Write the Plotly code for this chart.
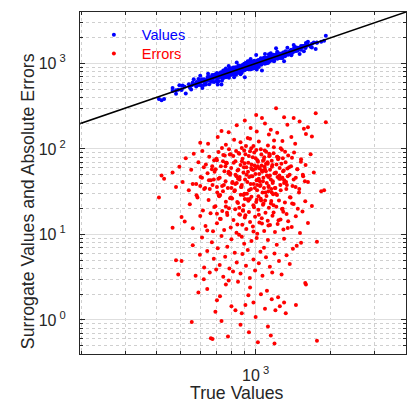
import plotly.graph_objects as go

# true values (x) and absolute errors, grouped by error band
true_values = [
    # errors below 1
    555, 662, 672, 775, 1021, 1150, 1190, 1760, 870, 940,
    1120, 730,
    # errors 1-3
    590, 640, 700, 720, 760, 800, 830, 850, 880, 910,
    950, 980, 1000, 1050, 1090, 1110, 1160, 1200, 1230, 1250,
    1300, 1320, 1450, 1580, 1590, 690, 780, 935,
    # errors 3-10
    480, 490, 505, 560, 575, 598, 610, 622, 640, 655,
    668, 680, 695, 705, 718, 730, 742, 755, 770, 785,
    800, 812, 825, 840, 858, 870, 885, 900, 915, 930,
    948, 962, 980, 995, 1010, 1030, 1045, 1065, 1080, 1100,
    1120, 1140, 1165, 1190, 1215, 1240, 1270, 1300, 1330, 1370,
    1410, 1460, 1520, 620, 880,
    # errors 10-30
    520, 545, 560, 585, 600, 615, 630, 648, 660, 675,
    690, 700, 712, 725, 735, 748, 760, 770, 782, 795,
    805, 815, 828, 838, 850, 860, 872, 884, 895, 905,
    918, 928, 940, 950, 962, 975, 985, 995, 1005, 1015,
    1025, 1035, 1048, 1058, 1070, 1082, 1095, 1105, 1118, 1130,
    1142, 1155, 1168, 1180, 1195, 1210, 1225, 1240, 1258, 1275,
    1292, 1310, 1330, 1350, 1372, 1395, 1420, 1448, 1475, 1505,
    1540, 1580, 1620, 1680, 1760, 410, 465, 505, 580, 640,
    720, 790, 845, 890, 935, 980, 1030, 1075, 1125, 1175,
    1235, 1290, 1345, 1400, 860, 910, 1010, 1060, 760, 700,
    # errors 30-100
    420, 430, 465, 480, 495, 510, 525, 540, 552, 565,
    578, 590, 602, 612, 622, 632, 642, 652, 662, 672,
    682, 692, 702, 710, 718, 726, 734, 742, 750, 758,
    766, 774, 782, 790, 798, 806, 814, 822, 830, 838,
    846, 854, 862, 870, 878, 886, 894, 902, 910, 918,
    926, 934, 942, 950, 958, 966, 974, 982, 990, 998,
    1006, 1014, 1022, 1030, 1038, 1046, 1054, 1062, 1070, 1078,
    1086, 1094, 1102, 1110, 1118, 1126, 1134, 1142, 1150, 1160,
    1170, 1180, 1190, 1200, 1212, 1224, 1236, 1248, 1260, 1274,
    1288, 1302, 1318, 1334, 1350, 1368, 1386, 1405, 1425, 1448,
    1470, 1495, 1520, 1550, 1585, 1620, 1660, 1710, 1830, 1880,
    560, 620, 680, 740, 800, 860, 920, 980, 1040, 1100,
    1160, 1220, 1280, 1340, 600, 700, 780, 840, 900, 960,
    1020, 1080, 1140, 1200, 650, 760, 880, 1000, 1060, 1260,
    # errors above 100
    645, 705, 780, 840, 1060, 1207, 1300, 1420, 1740, 1910,
    600, 730, 760, 820, 880, 905, 930, 955, 980, 1005,
    1030, 1090, 1120, 1150, 1185, 1220, 1260, 1340, 1390, 1440,
    1500, 1560, 1620, 870, 950, 1010, 1130, 1280, 1590, 1680,
    # dense core, errors 15-110
    655, 668, 683, 697, 709, 721, 733, 746, 757, 768,
    779, 788, 797, 808, 817, 826, 835, 844, 853, 863,
    873, 881, 889, 897, 907, 915, 923, 932, 939, 947,
    955, 963, 971, 979, 987, 993, 1002, 1009, 1017, 1026,
    1033, 1041, 1049, 1057, 1066, 1074, 1083, 1091, 1099, 1108,
    1116, 1124, 1133, 1141, 1152, 1162, 1172, 1183, 1194, 1206,
    1218, 1230, 1243, 1256, 1268, 1282, 1296, 1312, 1327, 1345,
    1362, 1380, 1398, 1420, 1445, 1468, 1492, 1518, 1545, 1575,
    610, 628, 670, 715, 752, 791, 829, 866, 903, 941,
    977, 1013, 1052, 1088, 1127, 1166, 1204, 1245, 1285, 1324,
    685, 740, 795, 850, 905, 960, 1015, 1070, 1125, 1180,
    700, 765, 830, 895, 960, 1025, 1090, 1155, 1220, 1300,
]

abs_errors = [
    0.95, 0.61, 0.60, 0.64, 0.55, 0.66, 0.53, 0.57, 0.88, 0.72,
    0.84, 0.97,
    2.1, 2.3, 1.7, 1.9, 2.6, 1.45, 1.3, 2.8, 1.2, 1.5,
    2.4, 1.6, 1.08, 2.0, 1.35, 2.2, 1.75, 1.3, 1.85, 1.45,
    1.6, 1.2, 1.5, 2.7, 2.6, 1.25, 2.9, 1.95,
    5.0, 3.4, 4.9, 7.5, 3.3, 5.8, 9.2, 4.1, 6.4, 3.6,
    8.1, 5.2, 3.9, 6.9, 4.4, 9.6, 3.2, 5.5, 7.2, 4.0,
    8.8, 3.7, 6.1, 4.7, 9.9, 3.5, 5.9, 7.8, 4.3, 6.6,
    3.1, 8.4, 5.1, 3.8, 9.1, 4.6, 6.3, 3.3, 7.0, 5.4,
    8.6, 4.2, 3.6, 6.0, 7.6, 4.9, 3.4, 8.9, 5.7, 4.5,
    6.8, 7.4, 8.0, 3.0, 9.4,
    14.2, 22.5, 11.8, 27.0, 16.4, 19.1, 12.6, 25.3, 17.7, 10.9,
    21.4, 13.5, 28.6, 15.2, 18.8, 11.3, 24.1, 16.9, 20.2, 12.1,
    26.4, 14.8, 19.7, 10.5, 23.3, 17.2, 29.1, 13.0, 21.9, 15.8,
    11.6, 25.8, 18.3, 14.0, 27.7, 12.4, 20.8, 16.1, 23.9, 10.2,
    19.4, 13.8, 26.1, 15.5, 22.2, 11.0, 17.9, 28.2, 14.5, 20.5,
    12.9, 24.6, 16.6, 18.1, 10.7, 21.1, 13.3, 25.0, 15.0, 19.9,
    11.4, 23.6, 17.4, 14.3, 27.3, 12.2, 22.7, 16.3, 20.0, 10.4,
    18.6, 24.4, 13.6, 21.6, 8.2, 27.0, 12.0, 16.0, 28.8, 11.1,
    15.3, 26.6, 13.1, 19.2, 24.8, 10.8, 17.0, 22.9, 12.7, 29.5,
    14.7, 18.4, 11.9, 23.0, 20.6, 16.8, 25.5, 13.4, 21.2, 17.5,
    49, 45, 53, 36, 62, 41, 78, 33, 57, 88,
    39, 70, 47, 95, 34, 66, 52, 81, 43, 38,
    74, 58, 31, 92, 46, 63, 37, 85, 55, 42,
    68, 35, 99, 50, 60, 40, 83, 32, 72, 48,
    56, 90, 44, 65, 36, 77, 53, 30, 87, 61,
    41, 69, 47, 94, 34, 58, 80, 39, 64, 51,
    97, 33, 71, 45, 59, 38, 86, 54, 42, 75,
    62, 31, 93, 49, 67, 36, 82, 57, 44, 73,
    40, 89, 52, 35, 66, 47, 79, 60, 33, 98,
    55, 43, 70, 38, 84, 50, 63, 37, 91, 46,
    58, 34, 76, 48, 65, 41, 87, 53, 32, 33,
    39, 61, 44, 72, 35, 88, 50, 57, 42, 67,
    31, 81, 46, 59, 37, 74, 54, 40, 96, 48,
    63, 35, 85, 52, 43, 69, 38, 78, 56, 45,
    115, 138, 157, 190, 230, 300, 235, 230, 262, 206,
    118, 162, 112, 128, 103, 215, 134, 176, 108, 250,
    122, 198, 110, 168, 126, 155, 102, 192, 138, 115,
    210, 172, 180, 120, 132, 160, 148, 124, 150, 140,
    34, 58, 21, 77, 45, 29, 103, 38, 63, 18,
    52, 86, 27, 41, 69, 33, 95, 24, 57, 47,
    36, 72, 19, 61, 44, 108, 30, 54, 83, 26,
    39, 66, 48, 22, 91, 35, 59, 43, 74, 28,
    51, 37, 99, 64, 31, 46, 80, 25, 55, 40,
    70, 32, 88, 49, 23, 62, 42, 105, 35, 53,
    29, 76, 45, 38, 67, 20, 56, 93, 34, 48,
    61, 27, 79, 44, 36, 58, 31, 71, 50, 42,
    46, 35, 63, 28, 84, 52, 39, 17, 68, 33,
    57, 43, 25, 96, 37, 65, 30, 49, 78, 41,
    54, 32, 87, 45, 26, 60, 38, 73, 47, 22,
    36, 69, 50, 29, 102, 44, 58, 34, 81, 40,
]

# whether each surrogate value over (+) or under (-) predicts the true value
error_signs = (
    "+-+--+-++- -++-+--+-+ +--+-++--+ -+-++-+--+ ++-+--+-+- "
    "-+--++-+-+ +-++-+--+- --+-++-+-+ +-+-+--++- -++--+-+-+ "
    "+-+--++-+- -+-+-+--++ +--++-+-+- -+-+--+++- +-+-++--+- "
    "-++-+-+--+ +--+-+-++- -+-+-+-+-+ ++--+-+-+- -+-++--+-+ "
    "+-+-+-+--+ -+--+-++-+ +-++--+-+- -+-+-++-+- +--+-+-+-+ "
    "-++-+--+-+ +-+-+-+-+- -+-+--+-++ +-++-+-+-- -+-+-+-++- "
    "+-+--+-+-+ -+-++-+--+ +--+-+-+-+ -+-+-+-++- +-+-++-+-- "
    "-++-+-+-+- +-+-+--+-+ -+-+- "
    "+-+-++-+-- -+-+-+-++- +--+-+-+-+ -++-+--+-+ +-+-+-++-- "
    "-+-+--+-++ +-++-+--+- -+--+-+-++ +-+-+--+-+ -++-+-+--+ "
    "+-+--+-++- -+-+-+-+-+"
).replace(" ", "")

surrogate_values = [t + e if s == "+" else t - e
                    for t, e, s in zip(true_values, abs_errors, error_signs)]

ref_line = [100, 10000]

font = "Liberation Sans, Arial, sans-serif"
ink = "#262626"

fig = go.Figure()
fig.add_trace(go.Scatter(
    x=true_values, y=surrogate_values, mode="markers",
    name="<span style='color:#0000ff'>Values</span>", legend="legend",
    marker=dict(color="#0000ff", size=4, line=dict(width=0)),
))
fig.add_trace(go.Scatter(
    x=true_values, y=abs_errors, mode="markers",
    name="<span style='color:#ff0000'>Errors</span>", legend="legend2",
    marker=dict(color="#ff0000", size=4, line=dict(width=0)),
))
fig.add_trace(go.Scatter(
    x=ref_line, y=ref_line, mode="lines", showlegend=False,
    line=dict(color="black", width=1.5),
))

minor_x = [200, 300, 400, 500, 600, 700, 800, 900, 2000, 3000, 4000]
minor_y = [0.4, 0.5, 0.6, 0.7, 0.8, 0.9,
           2, 3, 4, 5, 6, 7, 8, 9,
           20, 30, 40, 50, 60, 70, 80, 90,
           200, 300, 400, 500, 600, 700, 800, 900,
           2000, 3000, 4000]

axis_common = dict(
    type="log", automargin=False,
    showline=True, linecolor=ink, linewidth=1, mirror="ticks",
    ticks="inside", ticklen=5, tickcolor=ink,
    showgrid=True, gridcolor="#dedede", gridwidth=1, zeroline=False,
    tickfont=dict(family=font, size=16, color=ink),
)

fig.update_xaxes(
    range=[2.2967, 3.6021], tickmode="array", tickvals=[1000],
    ticktext=["10<sup> 3</sup>"], ticklabelstandoff=7,
    minor=dict(tickvals=minor_x, ticks="inside", ticklen=3, tickcolor=ink,
               showgrid=True, gridcolor="#cfcfcf", griddash="dot", gridwidth=1),
    **axis_common,
)
fig.update_yaxes(
    range=[-0.398, 3.6021], tickmode="array", tickvals=[1, 10, 100, 1000],
    ticktext=["10<sup> 0</sup>", "10<sup> 1</sup>", "10<sup> 2</sup>", "10<sup> 3</sup>"],
    ticklabelstandoff=10,
    minor=dict(tickvals=minor_y, ticks="inside", ticklen=3, tickcolor=ink,
               showgrid=True, gridcolor="#cfcfcf", griddash="dot", gridwidth=1),
    **axis_common,
)

fig.add_annotation(
    text="True Values", xref="paper", yref="paper", x=0.483, y=-0.114,
    xanchor="center", yanchor="middle", showarrow=False,
    font=dict(family=font, size=17.7, color=ink),
)
fig.add_annotation(
    text="Surrogate Values and Absolute Errors", xref="paper", yref="paper",
    x=-0.1595, y=0.447, textangle=-90,
    xanchor="center", yanchor="middle", showarrow=False,
    font=dict(family=font, size=17.7, color=ink),
)

legend_style = dict(xanchor="left", yanchor="top", bgcolor="rgba(0,0,0,0)",
                    borderwidth=0, font=dict(family=font, size=14.5),
                    itemsizing="trace", itemwidth=46)

fig.update_layout(
    width=410, height=408,
    margin=dict(l=80, r=4, t=12, b=54),
    paper_bgcolor="white", plot_bgcolor="white",
    font=dict(family=font, color=ink),
    showlegend=True,
    legend=dict(x=0.018, y=0.98, **legend_style),
    legend2=dict(x=0.018, y=0.925, **legend_style),
)

# drop the browser's default page margin so the figure sits at the window corner
fig.write_html("out.html", config={"displayModeBar": False},
               post_script="document.body.style.margin='0';")
